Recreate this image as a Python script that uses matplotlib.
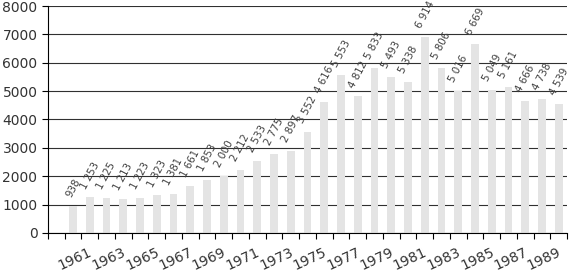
import numpy as np
import matplotlib.pyplot as plt
import matplotlib.transforms as mtransforms

# data: yearly values 1960-1989
years = list(range(1960, 1990))
values = [938, 1253, 1225, 1213, 1223, 1323, 1381, 1661, 1853, 2000,
          2212, 2533, 2775, 2897, 3552, 4616, 5553, 4812, 5833, 5493,
          5338, 6914, 5806, 5016, 6669, 5049, 5161, 4666, 4738, 4539]
label_years = list(range(1961, 1990, 2))
y_ticks = list(range(0, 8001, 1000))

plt.rcParams['font.family'] = 'DejaVu Sans'

fig = plt.figure(figsize=(5.7, 2.75), dpi=100)
ax = fig.add_axes([0.084, 0.153, 0.911, 0.825])

ax.bar(years, values, width=0.47, color='#e4e4e4', zorder=2)

# data labels, rotated
for x, v in zip(years, values):
    txt = '{:,}'.format(v).replace(',', ' ')
    ax.annotate(txt, (x, v), xytext=(0, 5), textcoords='offset points',
                rotation=62, ha='center', va='bottom', fontsize=7.4,
                color='#404040', zorder=3)

ax.set_xlim(1958.5, 1989.5)
ax.set_ylim(0, 8000)
ax.set_yticks(y_ticks)
ax.set_yticklabels([str(t) for t in y_ticks], fontsize=10, color='#333333')
ax.yaxis.grid(True, color='#303030', linewidth=0.8, zorder=1)
ax.set_axisbelow(True)

# ticks between categories, labels on every other year
ax.set_xticks(np.arange(1958.5, 1990, 1))
ax.set_xticklabels([])
ax.set_xticks(label_years, minor=True)
ax.set_xticklabels([str(y) for y in label_years], minor=True, fontsize=10,
                   rotation=25, ha='right', rotation_mode='anchor',
                   color='#333333')
ax.tick_params(axis='x', which='minor', length=0, pad=8.5)
ax.tick_params(axis='both', which='major', length=4, width=0.8, color='black')

offset = mtransforms.ScaledTranslation(-1 / 72, 0, fig.dpi_scale_trans)
for lab in ax.xaxis.get_minorticklabels():
    lab.set_transform(lab.get_transform() + offset)

for s in ['top', 'right']:
    ax.spines[s].set_visible(False)
for s in ['left', 'bottom']:
    ax.spines[s].set_color('black')
    ax.spines[s].set_linewidth(0.8)

fig.savefig('out.png', dpi=100)
